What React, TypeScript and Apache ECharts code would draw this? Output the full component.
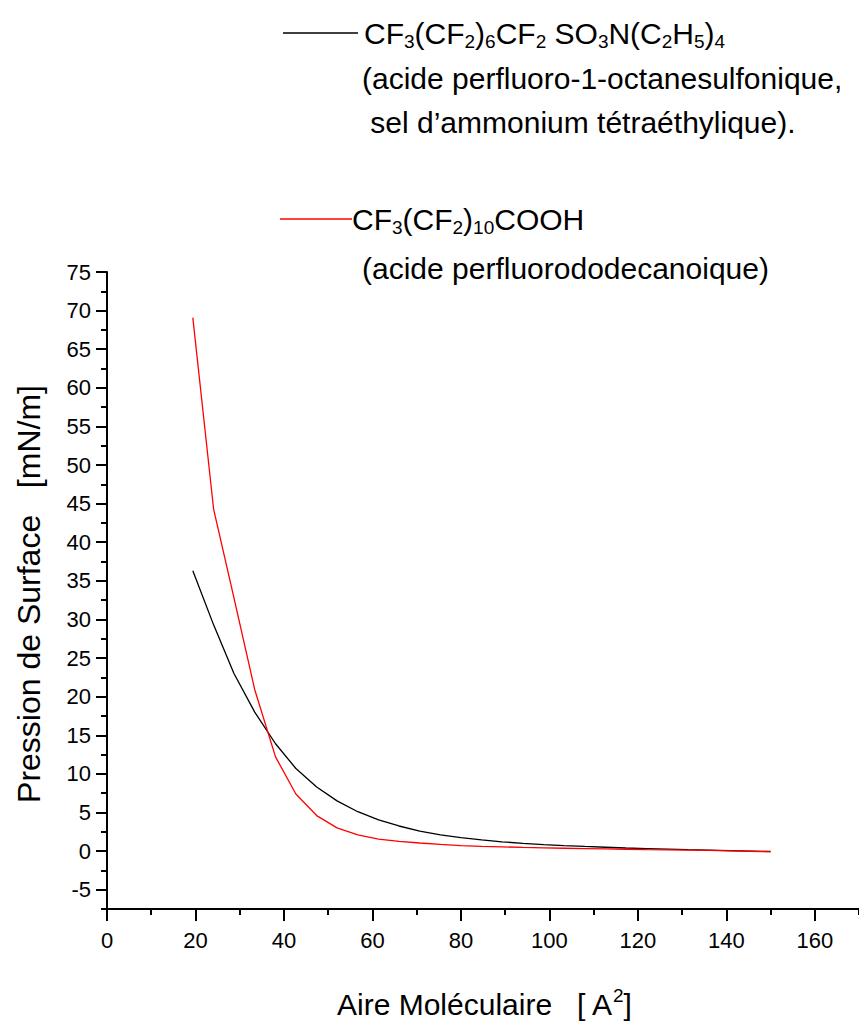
import React, { useEffect, useRef } from "react";
import * as echarts from "echarts";

// Molecular area (Å²) at which both isotherms were sampled
const areas = [19.4, 24.1, 28.7, 33.4, 38.1, 42.7, 47.4, 52.0, 56.7, 61.4, 66.0, 70.7, 75.4, 80.0, 84.7, 89.3, 94.0, 98.7, 103.3, 108.0, 112.7, 117.3, 122.0, 126.7, 131.3, 136.0, 140.7, 145.3, 150.0];
// CF3(CF2)6CF2 SO3N(C2H5)4
const sulfonate = [36.3, 29.3, 23.0, 18.0, 13.9, 10.7, 8.3, 6.5, 5.1, 4.05, 3.25, 2.6, 2.1, 1.75, 1.45, 1.2, 1.0, 0.85, 0.72, 0.6, 0.5, 0.4, 0.32, 0.25, 0.18, 0.12, 0.06, 0.0, -0.05];
// CF3(CF2)10COOH
const dodecanoic = [69.1, 44.3, 32.8, 20.9, 12.2, 7.4, 4.6, 3.0, 2.1, 1.55, 1.25, 1.05, 0.88, 0.72, 0.62, 0.55, 0.48, 0.42, 0.37, 0.32, 0.28, 0.24, 0.2, 0.17, 0.13, 0.08, 0.03, -0.02, -0.08];

const xMajorTicks = [0, 20, 40, 60, 80, 100, 120, 140, 160];
const yMajorTicks = [-5, 0, 5, 10, 15, 20, 25, 30, 35, 40, 45, 50, 55, 60, 65, 70, 75];

const FONT = "'Liberation Sans', Arial, Helvetica, sans-serif";

export default function App() {
  const ref = useRef<HTMLDivElement>(null);

  useEffect(() => {
    document.body.style.margin = "0";
    if (!ref.current) return;
    const chart = echarts.init(ref.current, null, { renderer: "svg" });

    const blackData = areas.map((a, i) => [a, sulfonate[i]]);
    const redData = areas.map((a, i) => [a, dodecanoic[i]]);

    const axisLine = { show: true, onZero: false, lineStyle: { color: "#000", width: 2 } };
    const labelStyle = { color: "#000", fontSize: 22, fontFamily: FONT };

    const rich = {
      n: { fontSize: 30, lineHeight: 36, fontFamily: FONT, color: "#000" },
      s: { fontSize: 19, lineHeight: 10, verticalAlign: "bottom", fontFamily: FONT, color: "#000" },
      p: { fontSize: 19, lineHeight: 4, verticalAlign: "top", fontFamily: FONT, color: "#000" },
    };

    chart.setOption({
      animation: false,
      backgroundColor: "#fff",
      grid: { left: 107, top: 272, width: 752, height: 637, containLabel: false },
      xAxis: [
        {
          type: "value",
          min: 0,
          max: 170,
          position: "bottom",
          axisLine,
          axisTick: { show: true, customValues: xMajorTicks, length: 12, lineStyle: { color: "#000", width: 2 } },
          axisLabel: { ...labelStyle, customValues: xMajorTicks, margin: 20 },
          splitLine: { show: false },
        },
        {
          type: "value",
          min: 0,
          max: 170,
          interval: 10,
          position: "bottom",
          axisLine: { show: false, onZero: false },
          axisTick: { show: true, length: 6, lineStyle: { color: "#000", width: 2 } },
          axisLabel: { show: false },
          splitLine: { show: false },
        },
      ],
      yAxis: [
        {
          type: "value",
          min: -7.5,
          max: 75,
          position: "left",
          axisLine,
          axisTick: { show: true, customValues: yMajorTicks, length: 11, lineStyle: { color: "#000", width: 2 } },
          axisLabel: { ...labelStyle, customValues: yMajorTicks, margin: 16 },
          splitLine: { show: false },
        },
        {
          type: "value",
          min: -7.5,
          max: 75,
          interval: 2.5,
          position: "left",
          axisLine: { show: false, onZero: false },
          axisTick: { show: true, length: 6, lineStyle: { color: "#000", width: 2 } },
          axisLabel: { show: false },
          splitLine: { show: false },
        },
      ],
      series: [
        {
          name: "CF3(CF2)6CF2 SO3N(C2H5)4",
          type: "line",
          xAxisIndex: 0,
          yAxisIndex: 0,
          data: blackData,
          showSymbol: false,
          lineStyle: { color: "#000", width: 1.3 },
          itemStyle: { color: "#000" },
        },
        {
          name: "CF3(CF2)10COOH",
          type: "line",
          xAxisIndex: 0,
          yAxisIndex: 0,
          data: redData,
          showSymbol: false,
          lineStyle: { color: "#ff0000", width: 1.3 },
          itemStyle: { color: "#ff0000" },
        },
      ],
      graphic: [
        // legend: black series
        { type: "line", shape: { x1: 283, y1: 33, x2: 358, y2: 33 }, style: { stroke: "#000", lineWidth: 1.3 } },
        {
          type: "text",
          x: 364,
          y: 33,
          style: {
            text: "{n|CF}{s|3}{n|(CF}{s|2}{n|)}{s|6}{n|CF}{s|2}{n| SO}{s|3}{n|N(C}{s|2}{n|H}{s|5}{n|)}{s|4}",
            rich,
            verticalAlign: "middle",
            fill: "#000",
          },
        },
        {
          type: "text",
          x: 362,
          y: 78,
          style: { text: "(acide perfluoro-1-octanesulfonique,", fontSize: 30, fontFamily: FONT, fill: "#000", verticalAlign: "middle" },
        },
        {
          type: "text",
          x: 362,
          y: 122,
          style: { text: " sel d\u2019ammonium tétraéthylique).", fontSize: 30, fontFamily: FONT, fill: "#000", verticalAlign: "middle" },
        },
        // legend: red series
        { type: "line", shape: { x1: 280, y1: 219, x2: 352, y2: 219 }, style: { stroke: "#ff0000", lineWidth: 1.3 } },
        {
          type: "text",
          x: 352,
          y: 219,
          style: {
            text: "{n|CF}{s|3}{n|(CF}{s|2}{n|)}{s|10}{n|COOH}",
            rich,
            verticalAlign: "middle",
            fill: "#000",
          },
        },
        {
          type: "text",
          x: 362,
          y: 268,
          style: { text: "(acide perfluorododecanoique)", fontSize: 30, fontFamily: FONT, fill: "#000", verticalAlign: "middle" },
        },
        // axis titles
        {
          type: "text",
          x: 484,
          y: 1004,
          style: {
            text: "{n|Aire Moléculaire   [ A}{p|2}{n|]}",
            rich,
            align: "center",
            verticalAlign: "middle",
            fill: "#000",
          },
        },
        {
          type: "text",
          x: 29,
          y: 594,
          rotation: Math.PI / 2,
          style: {
            text: "Pression de Surface   [mN/m]",
            fontSize: 32,
            fontFamily: FONT,
            fill: "#000",
            align: "center",
            verticalAlign: "middle",
          },
        },
      ],
    });

    return () => chart.dispose();
  }, []);

  return <div ref={ref} style={{ width: 859, height: 1026 }} />;
}
